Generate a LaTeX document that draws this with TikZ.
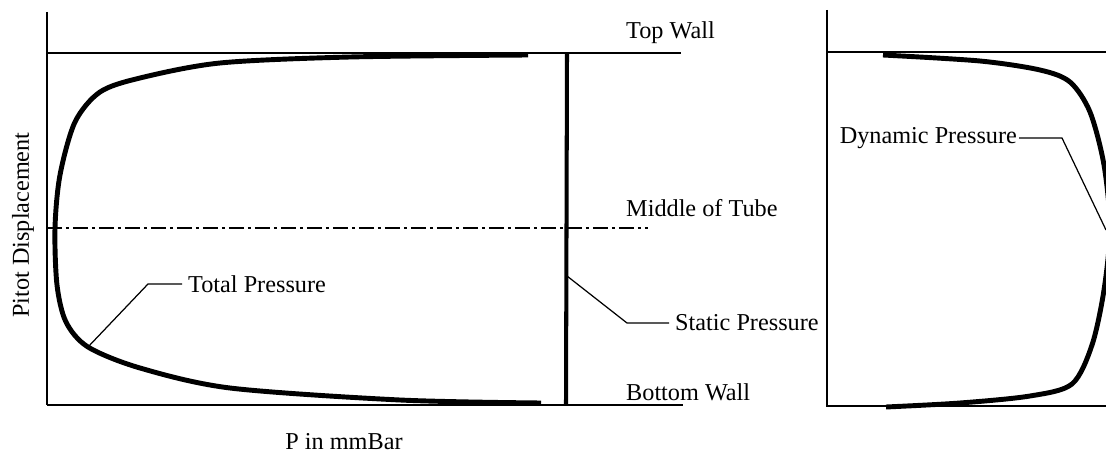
\documentclass[tikz,border=0pt]{standalone}
\usepackage{fontspec}
\setmainfont{Liberation Serif}
\usepackage{tikz}
\usetikzlibrary{positioning,calc}

\begin{document}
\begin{tikzpicture}[x=0.02cm, y=-0.02cm,
    every node/.style={font=\fontsize{13.8}{16}\selectfont},
    wall/.style={line width=0.85pt},
    axis/.style={line width=1.1pt},
    curve/.style={line width=2.8pt, line join=round},
    leader/.style={line width=0.7pt},
    midline/.style={line width=0.8pt, dash pattern=on 0.3cm off 0.08cm on 0.06cm off 0.08cm}]
    \useasboundingbox (0,0) rectangle (1106,456);
    \clip (0,0) rectangle (1106,456);

    % Left panel: axes and walls
    \draw[axis] (47,12) -- (47,405);
    \draw[wall] (47,53) -- (681,53);
    \draw[axis] (47,405) -- (683,405);
    \draw[midline] (47,228) -- (648,228);
    \node[anchor=west] (top) at (620,33) {Top Wall};
    \node[anchor=west] (mid) at (620,208) {Middle of Tube};
    \node[anchor=west] (bot) at (620,392) {Bottom Wall};
    \node[rotate=90] (ylab) at (23,225) {Pitot Displacement};
    \node (xlab) at (344,442) {P in mmBar};

    % Total pressure
    \draw[curve] plot[smooth, tension=0.5] coordinates
        {(528,55) (350,57) (220,63) (140,78) (100,92) (75,122) (60,175) (55,228)
         (57,285) (66,322) (88,347) (140,368) (230,388) (400,400) (541,403)};
    \coordinate (tp) at (88,347);
    \node[anchor=west] (total) at (182,284) {Total Pressure};
    \draw[leader] (tp) -- (148,284) -- (total.west);

    % Static pressure
    \draw[line width=2.3pt] (567,53) -- (566,405);
    \coordinate (sp) at (567,276);
    \node[anchor=west] (static) at (669,323) {Static Pressure};
    \draw[leader] (sp) -- (627,323) -- (static.west);

    % Right panel: dynamic pressure
    \draw[axis] (827,10) -- (827,407);
    \draw[wall] (827,52) -- (1106,52);
    \draw[axis] (827,406) -- (1106,406);
    \draw[curve] plot[smooth, tension=0.5] coordinates
        {(883,55) (980,61) (1040,70) (1070,82) (1090,112) (1104,165) (1110,228)
         (1104,290) (1092,345) (1072,384) (1030,396) (960,403) (886,407)};
    \coordinate (dp) at (1106,230);
    \node[anchor=east, inner sep=1pt] (dyn) at (1019,138) {Dynamic Pressure};
    \draw[leader] (dyn.east) -- (1062,138) -- (dp);
\end{tikzpicture}
\end{document}
